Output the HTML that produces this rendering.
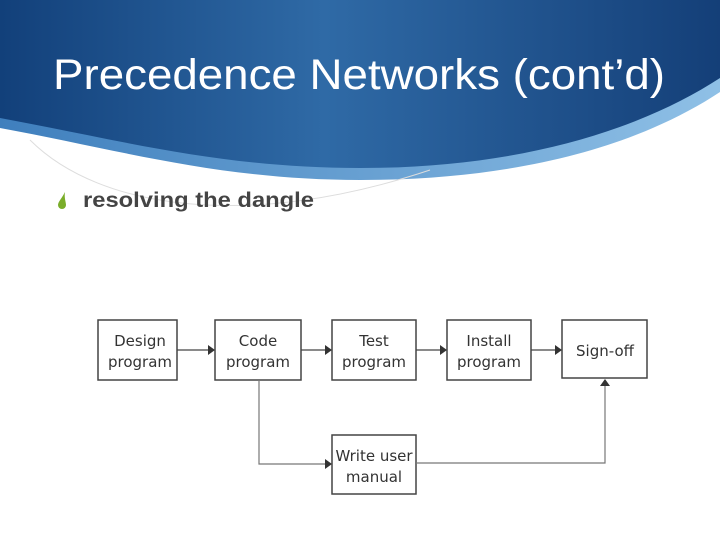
<!DOCTYPE html>
<html><head><meta charset="utf-8"><style>
body{margin:0;width:720px;height:540px;overflow:hidden;background:#fff;font-family:"Liberation Sans",sans-serif}
</style></head><body>
<svg width="720" height="540" viewBox="0 0 720 540" xmlns="http://www.w3.org/2000/svg" style="position:absolute;left:0;top:0">
<defs>
<linearGradient id="g" x1="0" y1="0" x2="1" y2="0">
<stop offset="0" stop-color="#12407a"/><stop offset="0.45" stop-color="#2f6aa6"/><stop offset="1" stop-color="#143f78"/>
</linearGradient>
<linearGradient id="b" x1="0" y1="0" x2="1" y2="0">
<stop offset="0" stop-color="#3f7fbd"/><stop offset="1" stop-color="#8fc0e6"/>
</linearGradient>
</defs>
<path d="M0,0 H720 V92 C640,145 520,180 360,180 C220,180 120,150 0,128 Z" fill="url(#b)"/>
<path d="M0,0 H720 V78 C640,130 520,168 360,168 C220,168 120,140 0,118 Z" fill="url(#g)"/>
<path d="M30,140 C100,210 250,230 430,170" fill="none" stroke="#ddd" stroke-width="1"/>
<text x="53" y="89" fill="#fff" font-size="43" textLength="612" lengthAdjust="spacingAndGlyphs" font-family="Liberation Sans, sans-serif">Precedence Networks (cont’d)</text>
<path d="M65,192 C62,198 58,202 58,205 A4,4 0 0 0 66,205 C66,202 64,198 65,192Z" fill="#7aad2a"/>
<text x="83" y="207" fill="#444" font-size="21" font-weight="bold" textLength="231" lengthAdjust="spacingAndGlyphs">resolving the dangle</text>
<g fill="#fff" stroke="#444" stroke-width="1.5">
<rect x="98" y="320" width="79" height="60"/>
<rect x="215" y="320" width="86" height="60"/>
<rect x="332" y="320" width="84" height="60"/>
<rect x="447" y="320" width="84" height="60"/>
<rect x="562" y="320" width="85" height="58"/>
<rect x="332" y="435" width="84" height="59"/>
</g>
<g stroke="#444" stroke-width="1.2" fill="none">
<path d="M177,350 H210 M301,350 H327 M416,350 H442 M531,350 H557"/>
<path d="M259,380 V464 H327 M416,463 H605 V385" stroke="#777"/>
</g>
<g fill="#333">
<path d="M215,350 l-7,-5 v10z M332,350 l-7,-5 v10z M447,350 l-7,-5 v10z M562,350 l-7,-5 v10z M332,464 l-7,-5 v10z M605,379 l-5,7 h10z"/>
</g>
<g font-size="15" fill="#333" text-anchor="middle" font-family="DejaVu Sans, sans-serif">
<text x="140" y="346">Design</text><text x="140" y="367">program</text>
<text x="258" y="346">Code</text><text x="258" y="367">program</text>
<text x="374" y="346">Test</text><text x="374" y="367">program</text>
<text x="489" y="346">Install</text><text x="489" y="367">program</text>
<text x="605" y="356">Sign-off</text>
<text x="374" y="461">Write user</text><text x="374" y="482">manual</text>
</g>
</svg>
</body></html>
